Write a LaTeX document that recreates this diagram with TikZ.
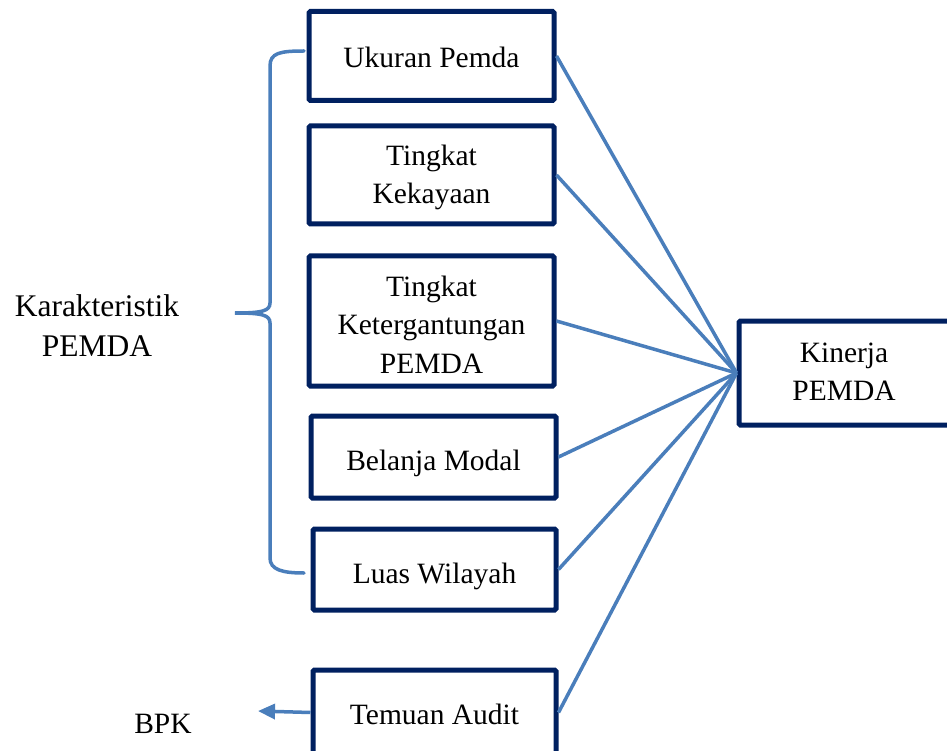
\documentclass[tikz,border=0pt]{standalone}
\usepackage{fontspec}
\setmainfont{Liberation Serif}
\usetikzlibrary{arrows.meta}
\definecolor{navy}{RGB}{0,32,96}
\definecolor{linkblue}{RGB}{74,126,187}
\begin{document}
\begin{tikzpicture}[x=1pt,y=-1pt,
  txt/.style={font=\fontsize{29.5}{38.5}\selectfont, align=center, inner sep=0pt},
  varbox/.style={draw=navy, line width=5pt, rounded corners=1.5pt, minimum width=245pt, fill=white, inner sep=0pt},
  link/.style={draw=linkblue, line width=3.5pt},
  bracestyle/.style={draw=linkblue, line width=3.5pt, line cap=round}]
\useasboundingbox (0,0) rectangle (947,751);
\clip (0,0) rectangle (947,751);
% boxes
\node[varbox, minimum height=89pt] (ukuran) at (431.5,56) {};
\node[varbox, minimum height=98pt] (kekayaan) at (431.5,175) {};
\node[varbox, minimum height=130pt] (ketergantungan) at (431.5,321) {};
\node[varbox, minimum height=82pt] (belanja) at (433.5,457) {};
\node[varbox, minimum width=243pt, minimum height=81pt] (luas) at (434.5,569.5) {};
\node[varbox, minimum width=243pt, minimum height=85pt] (temuan) at (434.5,712.5) {};
\node[varbox, minimum width=213pt, minimum height=104pt] (kinerja) at (845.5,373) {};
% box texts
\node[txt] (tukuran) at (431.5,57) {Ukuran Pemda};
\node[txt] (tkekayaan) at (431.5,177.5) {Tingkat\\Kekayaan};
\node[txt] (tketergantungan) at (431.5,324.5) {Tingkat\\Ketergantungan\\PEMDA};
\node[txt] (tbelanja) at (433.5,463) {Belanja Modal};
\node[txt] (tluas) at (434.5,576) {Luas Wilayah};
\node[txt] (ttemuan) at (434.5,714) {Temuan Audit};
\node[txt] (tkinerja) at (844,372) {Kinerja\\PEMDA};
% labels
\node[txt, font=\fontsize{31.5}{40}\selectfont] (karakteristik) at (97,326) {Karakteristik\\PEMDA};
\node[txt] (bpk) at (163,724) {BPK};
% connectors
\foreach \n in {ukuran,kekayaan,ketergantungan,belanja,luas,temuan}
  \draw[link] (\n.east) -- (kinerja.west);
\coordinate (bpkend) at (258,711);
\draw[link, -{Triangle[length=17pt,width=15pt]}] (temuan.west) -- (bpkend);
% brace
\coordinate (btop) at (304,51);
\coordinate (btip) at (235,313);
\coordinate (bbot) at (304,573);
\draw[bracestyle] (btop) .. controls (280,51) and (270,53) .. (270,66)
  -- (270,303) .. controls (270,311) and (262,313) .. (btip)
  .. controls (262,313) and (270,315) .. (270,323)
  -- (270,558) .. controls (270,570) and (283,573) .. (bbot);
\end{tikzpicture}
\end{document}
